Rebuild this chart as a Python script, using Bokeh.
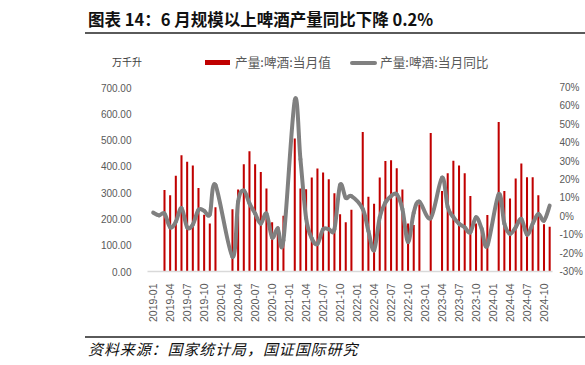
import math
import pandas as pd
from bokeh.plotting import figure
from bokeh.models import (Range1d, LinearAxis, FixedTicker, NumeralTickFormatter,
                          PrintfTickFormatter, Div)
from bokeh.layouts import column
from bokeh.embed import file_html
from bokeh.resources import INLINE

# ---------------- data ----------------
months = [m.strftime("%Y-%m") for m in pd.period_range("2019-01", "2024-11", freq="M")]

# 产量:啤酒:当月值 (万千升), None = not published
output_2019 = [None, None, 310, 290, 364, 442, 418, 403, 318, 216, 183, 244]
output_2020 = [None, None, 237, 312, 408, 457, 408, 379, 316, 187, 170, 212]
output_2021 = [None, 506, 316, 313, 358, 392, 377, 351, 298, 218, 187, 235]
output_2022 = [None, 531, 284, 258, 358, 420, 423, 393, 312, 183, 177, 256]
output_2023 = [None, 527, None, 306, 374, 421, 403, 374, 287, 183, 165, 215]
output_2024 = [None, 569, 306, 278, 354, 411, 359, 359, 290, 180, 170]

# 产量:啤酒:当月同比 (%)
yoy_2019 = [2, 0.5, 1.5, -6, -3, 4.5, -6, -4.5, 3.5, 3, 1, 17]
yoy_2020 = [None, None, -22, 8, 14, 7, 1.5, -4, 1.5, -11.5, -6.5, -13]
yoy_2021 = [None, 63, 31, -1, -12, -15, -7, -7, -7, 17, 10, 11]
yoy_2022 = [None, 4, -8, -18.5, -0.5, 7.5, 11, 12, 4, -14, 2, 8]
yoy_2023 = [None, -1, None, 21, 5, -0.5, -4, -6, -8.7, -0.5, -6.8, -16]
yoy_2024 = [None, 12, -4, -9.5, -6, -1.4, -10, -4, 1.3, -2.3, 5.8]

left_ticks = [0, 100, 200, 300, 400, 500, 600, 700]
right_ticks = [-30, -20, -10, 0, 10, 20, 30, 40, 50, 60, 70]

output = output_2019 + output_2020 + output_2021 + output_2022 + output_2023 + output_2024
yoy = yoy_2019 + yoy_2020 + yoy_2021 + yoy_2022 + yoy_2023 + yoy_2024

bar_x = [i for i, v in enumerate(output) if v is not None]
bar_top = [output[i] for i in bar_x]

lx = [i for i, v in enumerate(yoy) if v is not None]
ly = [yoy[i] for i in lx]

# smoothed line (Catmull-Rom as cubic Bezier segments, like Excel's smoothed line)
n = len(lx)
sx0, sy0, sx1, sy1, cx0, cy0, cx1, cy1 = [], [], [], [], [], [], [], []
for k in range(n - 1):
    a = max(k - 1, 0)
    b = min(k + 2, n - 1)
    sx0.append(lx[k]); sy0.append(ly[k])
    sx1.append(lx[k + 1]); sy1.append(ly[k + 1])
    cx0.append(lx[k] + (lx[k + 1] - lx[a]) / 6.0)
    cy0.append(ly[k] + (ly[k + 1] - ly[a]) / 6.0)
    cx1.append(lx[k + 1] - (lx[b] - lx[k]) / 6.0)
    cy1.append(ly[k + 1] - (ly[b] - ly[k]) / 6.0)

# ---------------- figure ----------------
GRAY_TXT = "#595959"
BAR_RED = "#C00000"
LINE_GRAY = "#808080"

p = figure(width=585, height=250, output_backend="svg", toolbar_location=None,
           x_range=Range1d(-1.0, 70.5), y_range=Range1d(0, 700),
           min_border_left=147, min_border_right=32, min_border_top=12,
           min_border_bottom=53, margin=0)
p.outline_line_color = None
p.xgrid.visible = False
p.ygrid.visible = False
p.extra_y_ranges = {"pct": Range1d(-30, 70)}

p.vbar(x=bar_x, top=bar_top, width=0.36, fill_color=BAR_RED, line_color=None)
p.bezier(x0=sx0, y0=sy0, x1=sx1, y1=sy1, cx0=cx0, cy0=cy0, cx1=cx1, cy1=cy1,
         line_color=LINE_GRAY, line_width=4, line_cap="round",
         y_range_name="pct")

# x axis
xa = p.xaxis[0]
xa.ticker = FixedTicker(ticks=list(range(0, len(months), 3)))
xa.major_label_overrides = {i: months[i] for i in range(0, len(months), 3)}
xa.major_label_orientation = math.pi / 2
xa.major_label_text_font = "Liberation Sans"
xa.major_label_text_font_size = "10.5px"
xa.major_label_text_color = GRAY_TXT
xa.axis_line_color = "#D9D9D9"
xa.axis_line_width = 1.5
xa.major_tick_line_color = None
xa.minor_tick_line_color = None
xa.major_label_standoff = 6

# left axis
ya = p.yaxis[0]
ya.ticker = FixedTicker(ticks=left_ticks)
ya.formatter = NumeralTickFormatter(format="0.00")
ya.major_label_text_font = "Liberation Sans"
ya.major_label_text_font_size = "10px"
ya.major_label_text_color = GRAY_TXT
ya.axis_line_color = None
ya.major_tick_line_color = None
ya.minor_tick_line_color = None
ya.major_label_standoff = 10

# right axis
ra = LinearAxis(y_range_name="pct", ticker=FixedTicker(ticks=right_ticks),
                formatter=PrintfTickFormatter(format="%d%%"))
ra.major_label_text_font = "Liberation Sans"
ra.major_label_text_font_size = "10px"
ra.major_label_text_color = GRAY_TXT
ra.axis_line_color = None
ra.major_tick_line_color = None
ra.minor_tick_line_color = None
ra.major_label_standoff = 7
ra.major_tick_out = 0
p.add_layout(ra, "right")

# ---------------- header (title, unit, legend) and footer ----------------
CJK = "'Noto Sans CJK SC'"
header = Div(width=585, height=75, margin=0, text=(
    '<div style="position:relative;width:585px;height:75px;">'
    # title
    f'<div style="position:absolute;left:88px;top:8px;font-family:{CJK};'
    'font-weight:bold;font-size:16.5px;line-height:22px;color:#111;white-space:nowrap;">'
    '图表 14：6 月规模以上啤酒产量同比下降 0.2%</div>'
    # title rule
    '<div style="position:absolute;left:85px;top:32px;width:500px;height:0;'
    'border-top:2px solid #5a5a5a;"></div>'
    # unit
    f'<div style="position:absolute;left:112px;top:55px;font-family:{CJK};'
    'font-size:10px;line-height:14px;color:#404040;white-space:nowrap;">万千升</div>'
    # legend: bars
    f'<div style="position:absolute;left:205px;top:60px;width:25px;height:5px;background:{BAR_RED};"></div>'
    f'<div style="position:absolute;left:235px;top:54px;font-family:{CJK};'
    f'font-size:12.7px;line-height:16px;color:{GRAY_TXT};white-space:nowrap;">产量:啤酒:当月值</div>'
    # legend: line
    f'<div style="position:absolute;left:350px;top:61px;width:27px;height:4px;'
    f'border-radius:2px;background:{LINE_GRAY};"></div>'
    f'<div style="position:absolute;left:380px;top:54px;font-family:{CJK};'
    f'font-size:12.7px;line-height:16px;color:{GRAY_TXT};white-space:nowrap;">产量:啤酒:当月同比</div>'
    '</div>'))

source = Div(width=585, height=38, margin=0, text=(
    '<div style="position:relative;width:585px;height:38px;">'
    '<div style="position:absolute;left:85px;top:11px;width:500px;height:0;'
    'border-top:2px solid #5a5a5a;"></div>'
    f'<div style="position:absolute;left:88px;top:15px;font-family:{CJK};'
    'font-style:italic;font-size:15px;letter-spacing:0.9px;line-height:18px;'
    'color:#111;white-space:nowrap;">资料来源：国家统计局，国证国际研究</div>'
    '</div>'))

layout = column(header, p, source, spacing=0)

open("out.html", "w").write(file_html(layout, INLINE))
